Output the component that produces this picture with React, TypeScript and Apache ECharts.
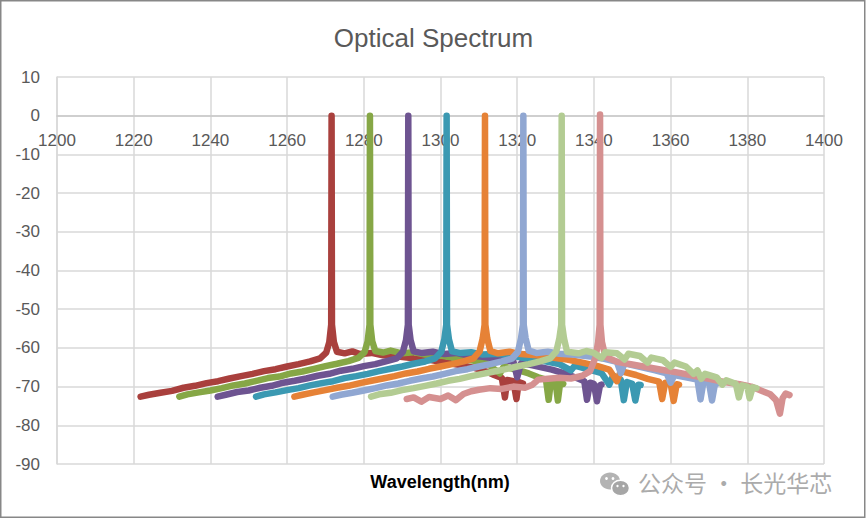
import React, { useEffect, useRef } from "react";
import * as echarts from "echarts";

const title = "Optical Spectrum";
const xAxisName = "Wavelength(nm)";
const watermark = "公众号 · 长光华芯";

const seriesNames = ["1271nm", "1281nm", "1291nm", "1301nm", "1311nm", "1321nm", "1331nm", "1341nm"];
const seriesColors = ["#A9403D", "#86A746", "#6E5491", "#3B99B2", "#E68236", "#90A7D2", "#B3CC93", "#D59090"];

const red = [
  [1221.8, -72.6], [1224, -72.1], [1227, -71.6], [1230, -71.1], [1233, -70.3], [1236, -69.8], [1239, -69.1],
  [1242, -68.6], [1245, -67.9], [1248, -67.3], [1251, -66.7], [1254, -66.0], [1257, -65.5], [1260, -64.8],
  [1263, -64.2], [1266, -63.5], [1268.6, -62.7], [1270.2, -61.2], [1271.0, -58.5], [1271.5, -54], [1271.6, 0],
  [1271.7, -54], [1272.2, -58.5], [1273.0, -61.0], [1275, -61.4], [1277, -60.9], [1279, -61.6], [1282, -61.3],
  [1285, -61.9], [1289, -62.2], [1293, -62.7], [1297, -63.1], [1301, -63.7], [1305, -64.4], [1309, -65.2],
  [1312, -66.1], [1314, -67.0], [1316, -67.8], [1316.8, -72.8], [1317.4, -68.3], [1319, -68.6], [1319.8, -73.2],
  [1320.4, -68.8], [1321.5, -69.2],
];

const green = [
  [1231.9, -72.6], [1234, -72.0], [1237, -71.5], [1240, -71.0], [1243, -70.4], [1246, -69.7], [1249, -69.2],
  [1252, -68.5], [1255, -67.8], [1258, -67.4], [1261, -66.6], [1264, -66.1], [1267, -65.4], [1270, -64.7],
  [1273, -64.1], [1276, -63.4], [1278.6, -62.6], [1280.2, -61.1], [1281.0, -58.3], [1281.5, -54], [1281.6, 0],
  [1281.7, -54], [1282.2, -58.3], [1283.0, -60.8], [1285, -61.2], [1287, -60.7], [1290, -61.4], [1293, -61.1],
  [1296, -61.7], [1300, -62.0], [1304, -62.6], [1308, -63.2], [1312, -63.9], [1315.5, -66.6], [1316.5, -64.8],
  [1320, -65.7], [1323, -66.6], [1325.5, -67.6], [1327.5, -68.2], [1328.2, -73.4], [1328.8, -68.5], [1330, -68.8],
  [1330.6, -73.6], [1331.2, -69.0], [1332, -69.3],
];

const purple = [
  [1241.9, -72.6], [1244, -72.1], [1247, -71.4], [1250, -71.0], [1253, -70.3], [1256, -69.8], [1259, -69.0],
  [1262, -68.5], [1265, -67.9], [1268, -67.2], [1271, -66.7], [1274, -65.9], [1277, -65.4], [1280, -64.7],
  [1283, -64.2], [1286, -63.4], [1288.6, -62.7], [1290.2, -61.0], [1291.0, -58.0], [1291.5, -54], [1291.6, 0],
  [1291.7, -54], [1292.2, -58.0], [1293.0, -60.9], [1295, -61.3], [1298, -61.0], [1301, -61.6], [1304, -61.3],
  [1307, -61.9], [1311, -62.3], [1315, -62.9], [1319, -63.5], [1320, -67.6], [1321, -64.0], [1324, -64.5],
  [1329, -65.6], [1333, -66.8], [1336, -68.0], [1337.5, -68.6], [1338.2, -73.4], [1339, -69.0], [1340, -69.3],
  [1340.8, -73.8], [1341.6, -69.6], [1342, -69.5],
];

const teal = [
  [1251.9, -72.6], [1254, -72.0], [1257, -71.5], [1260, -70.9], [1263, -70.4], [1266, -69.7], [1269, -69.1],
  [1272, -68.6], [1275, -67.8], [1278, -67.3], [1281, -66.7], [1284, -66.0], [1287, -65.4], [1290, -64.8],
  [1293, -64.1], [1296, -63.5], [1298.6, -62.7], [1300.2, -61.0], [1301.0, -57.8], [1301.5, -54], [1301.6, 0],
  [1301.7, -54], [1302.2, -57.8], [1303.0, -60.9], [1305, -61.3], [1308, -61.1], [1311, -61.7], [1315, -61.5],
  [1319, -62.1], [1323, -62.8], [1327, -63.4], [1331, -64.2], [1334, -65.8], [1335, -64.6], [1339, -65.7],
  [1342, -66.5], [1344, -69.5], [1345, -67.2], [1347, -68.2], [1347.8, -73.5], [1348.6, -68.8], [1350, -69.3],
  [1350.8, -73.6], [1351.6, -69.5], [1352.2, -69.6],
];

const orange = [
  [1261.9, -72.6], [1264, -72.1], [1267, -71.5], [1270, -70.9], [1273, -70.3], [1276, -69.8], [1279, -69.1],
  [1282, -68.5], [1285, -67.9], [1288, -67.3], [1291, -66.6], [1294, -66.1], [1297, -65.4], [1300, -64.8],
  [1303, -64.2], [1306, -63.5], [1308.6, -62.7], [1310.2, -60.9], [1311.0, -57.6], [1311.5, -54], [1311.6, 0],
  [1311.7, -54], [1312.2, -57.6], [1313.0, -60.8], [1315, -61.4], [1318, -61.0], [1321, -61.6], [1325, -61.9],
  [1329, -62.5], [1333, -63.0], [1337, -63.8], [1341, -64.7], [1344, -65.6], [1346, -68.6], [1347, -66.0],
  [1351, -67.0], [1354, -68.0], [1357, -68.7], [1357.8, -73.2], [1358.6, -69.0], [1360, -69.2], [1360.8, -73.7],
  [1361.6, -69.4], [1362.2, -69.5],
];

const lightBlue = [
  [1271.9, -72.6], [1274, -72.1], [1277, -71.6], [1280, -71.0], [1283, -70.4], [1286, -69.7], [1289, -69.2],
  [1292, -68.5], [1295, -67.9], [1298, -67.4], [1301, -66.7], [1304, -66.0], [1307, -65.5], [1310, -64.8],
  [1313, -64.2], [1316, -63.5], [1318.6, -62.8], [1320.2, -61.0], [1321.0, -57.5], [1321.5, -54], [1321.6, 0],
  [1321.7, -54], [1322.2, -57.5], [1323.0, -60.7], [1325, -61.3], [1328, -61.0], [1331, -61.5], [1335, -61.8],
  [1339, -62.2], [1343, -62.9], [1346, -63.6], [1347, -66.5], [1348, -64.0], [1352, -64.9], [1356, -65.8],
  [1359, -66.6], [1360, -69.0], [1361, -67.0], [1364, -67.6], [1367, -68.2], [1367.8, -73.3], [1368.6, -68.6],
  [1370, -68.9], [1370.8, -73.6], [1371.6, -69.1], [1372.2, -69.2],
];

const lightGreen = [
  [1281.9, -72.6], [1284, -72.0], [1287, -71.6], [1290, -70.9], [1293, -70.4], [1296, -69.8], [1299, -69.2],
  [1302, -68.5], [1305, -68.0], [1308, -67.3], [1311, -66.7], [1314, -66.1], [1317, -65.5], [1320, -64.8],
  [1323, -64.2], [1326, -63.5], [1328.6, -62.7], [1330.2, -60.9], [1331.0, -57.5], [1331.5, -54], [1331.6, 0],
  [1331.7, -54], [1332.2, -57.5], [1333.0, -61.0], [1336, -61.4], [1338, -60.8], [1340, -61.3], [1342, -62.6],
  [1343, -61.1], [1346, -61.4], [1348, -63.0], [1349, -61.5], [1352, -62.1], [1354, -63.8], [1355, -62.5],
  [1358, -63.2], [1360, -64.9], [1361, -63.8], [1364, -64.8], [1366, -66.7], [1367, -65.8], [1368, -68.0],
  [1369, -66.7], [1372, -67.6], [1373.5, -69.5], [1374.5, -68.4], [1377, -69.3], [1377.8, -72.8], [1378.6, -69.7],
  [1380, -70.0], [1380.6, -73.0], [1381.4, -70.2], [1382.4, -70.4],
];

const pink = [
  [1291.2, -73.2], [1293, -72.8], [1295, -73.9], [1297, -72.7], [1300, -73.2], [1302, -72.3], [1304, -73.5],
  [1306, -71.9], [1308, -71.2], [1310, -70.8], [1313, -70.4], [1316, -70.6], [1319, -70.0], [1322, -70.3],
  [1324, -69.5], [1325.5, -68.2], [1328, -68.0], [1331, -67.7], [1334, -67.9], [1337, -67.2], [1339, -66.0],
  [1340.4, -62.5], [1341.1, -58.5], [1341.5, -54], [1341.6, 0.3], [1341.7, -54], [1342.1, -58.5],
  [1343.0, -62.3], [1346, -63.6], [1350, -64.3], [1354, -65.0], [1358, -65.7], [1362, -66.4], [1366, -67.2],
  [1370, -68.0], [1374, -68.8], [1378, -69.4], [1381, -70.0], [1384, -71.2], [1386, -72.0], [1387.5, -73.5],
  [1388.5, -77.0], [1389.2, -73.0], [1390, -71.8], [1391, -72.2],
];

// in colour order; the draw order puts the 1331nm trace on top
const seriesData = [red, green, purple, teal, orange, lightBlue, lightGreen, pink];
const drawOrder = [0, 1, 2, 3, 4, 5, 7, 6];

const xTicks = { min: 1200, max: 1400, interval: 20 };
const yTicks = { min: -90, max: 10, interval: 10 };

const GRID = { left: 57, right: 43, top: 77, bottom: 56 };
const CHART_H = 520;

export default function App() {
  const ref = useRef<HTMLDivElement>(null);
  useEffect(() => {
    if (!ref.current) return;
    const chart = echarts.init(ref.current, undefined, { renderer: "svg" });
    const font = "'Liberation Sans', Arial, sans-serif";
    const plotH = CHART_H - GRID.top - GRID.bottom;
    // move the x axis up so that it crosses the value axis at 0
    const zeroOffset = -plotH * ((0 - yTicks.min) / (yTicks.max - yTicks.min));
    chart.setOption({
      animation: false,
      backgroundColor: "#ffffff",
      title: {
        text: title,
        left: "center",
        top: 20,
        textStyle: { fontSize: 26, fontWeight: "normal", color: "#595959", fontFamily: font },
      },
      grid: { ...GRID, containLabel: false },
      xAxis: [
        {
          type: "value",
          position: "bottom",
          offset: zeroOffset,
          min: xTicks.min,
          max: xTicks.max,
          interval: xTicks.interval,
          axisLine: { show: true, onZero: false, lineStyle: { color: "#c9c9c9", width: 1.5 } },
          axisTick: { show: false },
          axisLabel: {
            color: "#595959",
            fontSize: 17,
            fontFamily: font,
            margin: 16,
            formatter: (v: number) => String(v),
          },
          splitLine: { show: true, lineStyle: { color: "#d9d9d9", width: 1.5 } },
        },
      ],
      yAxis: {
        type: "value",
        min: yTicks.min,
        max: yTicks.max,
        interval: yTicks.interval,
        axisLine: { show: true, onZero: false, lineStyle: { color: "#d9d9d9", width: 1.5 } },
        axisTick: { show: false },
        axisLabel: { color: "#595959", fontSize: 17, fontFamily: font, margin: 17 },
        splitLine: { show: true, lineStyle: { color: "#d9d9d9", width: 1.5 } },
      },
      series: drawOrder.map((i) => ({
        name: seriesNames[i],
        type: "line",
        data: seriesData[i],
        showSymbol: false,
        symbol: "none",
        clip: false,
        lineStyle: { color: seriesColors[i], width: 6.5, cap: "round", join: "round" },
        itemStyle: { color: seriesColors[i] },
      })),
      graphic: [
        {
          type: "rect",
          silent: true,
          shape: { x: 0.75, y: 0.75, width: 864, height: 516.5 },
          style: { fill: "none", stroke: "#878787", lineWidth: 1.5 },
        },
        {
          type: "text",
          x: 440,
          y: 482,
          style: {
            text: xAxisName,
            fill: "#000000",
            font: `bold 18px ${font}`,
            align: "center",
            verticalAlign: "middle",
            textAlign: "center",
            textVerticalAlign: "middle",
          },
        },
        {
          type: "ellipse",
          shape: { cx: 610, cy: 481, rx: 10, ry: 8.5 },
          style: { fill: "#b3b3b3" },
        },
        {
          type: "ellipse",
          shape: { cx: 620.5, cy: 488, rx: 9, ry: 7.8 },
          style: { fill: "#a6a6a6", stroke: "#ffffff", lineWidth: 1.5 },
        },
        { type: "circle", shape: { cx: 606.5, cy: 478.5, r: 1.4 }, style: { fill: "#ffffff" } },
        { type: "circle", shape: { cx: 613, cy: 478.5, r: 1.4 }, style: { fill: "#ffffff" } },
        { type: "circle", shape: { cx: 617.5, cy: 486, r: 1.2 }, style: { fill: "#ffffff" } },
        { type: "circle", shape: { cx: 623.5, cy: 486, r: 1.2 }, style: { fill: "#ffffff" } },
        {
          type: "text",
          x: 638,
          y: 482,
          style: {
            text: watermark,
            fill: "#ababab",
            font: "23px 'Noto Sans CJK SC', sans-serif",
            align: "left",
            verticalAlign: "middle",
            textAlign: "left",
            textVerticalAlign: "middle",
          },
        },
      ],
    });
    return () => chart.dispose();
  }, []);
  return (
    <div
      ref={ref}
      style={{ position: "absolute", left: 0, top: 0, width: 867, height: 520, background: "#fff" }}
    />
  );
}
